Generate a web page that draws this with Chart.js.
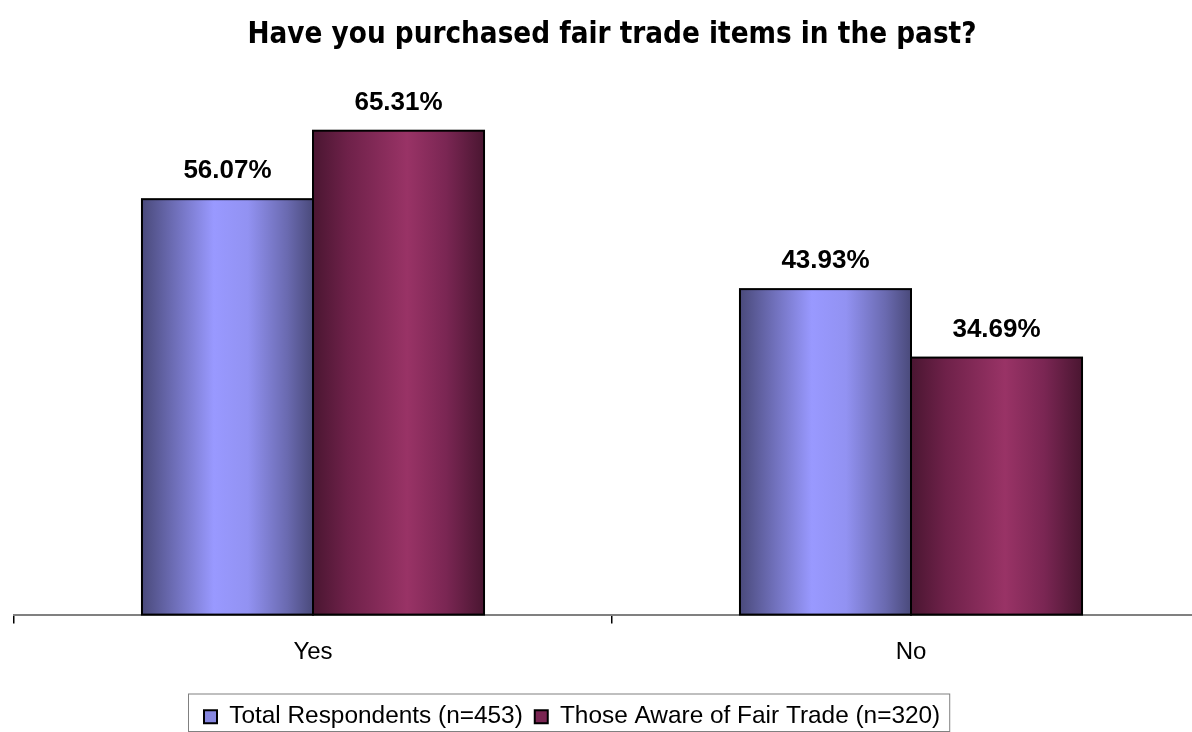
<!DOCTYPE html>
<html>
<head>
<meta charset="utf-8">
<title>Fair trade purchases</title>
<script src="https://cdn.jsdelivr.net/npm/chart.js@4/dist/chart.umd.min.js"></script>
<style>
  html, body { margin: 0; padding: 0; background: #fff; overflow: hidden; }
  #wrap { position: absolute; left: 0; top: 0; width: 1240px; height: 732px; }
</style>
</head>
<body>
<div id="wrap"><canvas id="chart"></canvas></div>
<script>
// Survey answers and the share of each group
const categories = ['Yes', 'No'];
const seriesNames = ['Total Respondents (n=453)', 'Those Aware of Fair Trade (n=320)'];
const totalRespondents = [56.07, 43.93];
const awareOfFairTrade = [65.31, 34.69];
const chartTitle = 'Have you purchased fair trade items in the past?';

// Edge / centre colours of the cylinder-like bar shading
const shading = [
  { edge: '#4a4a7b', mid: '#8787e0', light: '#9999ff' },
  { edge: '#4a1631', mid: '#7a2552', light: '#993366' }
];

function barGradient(ctx, left, right, s, idx) {
  const g = ctx.createLinearGradient(left, 0, right, 0);
  if (idx === 0) {
    g.addColorStop(0, s.edge);
    g.addColorStop(0.18, '#6c6cb4');
    g.addColorStop(0.42, s.light);
    g.addColorStop(0.62, '#9292f2');
    g.addColorStop(0.85, '#6a6ab0');
    g.addColorStop(1, s.edge);
  } else {
    g.addColorStop(0, s.edge);
    g.addColorStop(0.2, '#6e2149');
    g.addColorStop(0.55, s.light);
    g.addColorStop(0.78, '#7a2653');
    g.addColorStop(1, s.edge);
  }
  return g;
}

// Paints shaded bars with outlines and value labels from the bar elements
const barPaint = {
  id: 'barPaint',
  afterDatasetsDraw(chart) {
    const ctx = chart.ctx;
    ctx.save();
    chart.data.datasets.forEach((ds, di) => {
      const meta = chart.getDatasetMeta(di);
      meta.data.forEach((bar, i) => {
        const p = bar.getProps(['x', 'y', 'base', 'width'], true);
        const left = p.x - p.width / 2;
        const right = p.x + p.width / 2;
        ctx.fillStyle = barGradient(ctx, left, right, shading[di], di);
        ctx.fillRect(left, p.y, p.width, p.base - p.y);
        ctx.strokeStyle = '#000';
        ctx.lineWidth = 2;
        ctx.strokeRect(left, p.y, p.width, p.base - p.y);
        ctx.fillStyle = '#000';
        ctx.font = 'bold 26px "Liberation Sans", Arial, sans-serif';
        ctx.textAlign = 'center';
        ctx.textBaseline = 'middle';
        ctx.fillText(ds.data[i].toFixed(2) + '%', p.x, p.y - 28);
      });
    });
    ctx.restore();
  }
};

// Places the legend row and draws its frame
const legendFrame = {
  id: 'legendFrame',
  afterLayout(chart) {
    const lg = chart.legend;
    if (!lg) return;
    const h = lg.height;
    lg.left = 192;
    lg.top = 692.5;
    lg.bottom = lg.top + h;
  },
  afterDraw(chart) {
    const lg = chart.legend;
    if (!lg) return;
    const ctx = chart.ctx;
    const pad = lg.options.labels.padding;
    const x0 = lg.left - 3.5;
    const x1 = lg.left + pad + lg.lineWidths[0] - 2.5;
    const y0 = lg.top + 1.5;
    const y1 = chart.height - 0.5;
    ctx.save();
    ctx.strokeStyle = '#808080';
    ctx.lineWidth = 1;
    ctx.strokeRect(x0, y0, x1 - x0, y1 - y0);
    ctx.restore();
  }
};

new Chart(document.getElementById('chart'), {
  type: 'bar',
  data: {
    labels: categories,
    datasets: [
      { label: seriesNames[0], data: totalRespondents, backgroundColor: 'rgba(0,0,0,0)', borderWidth: 0,
        categoryPercentage: 0.572, barPercentage: 1 },
      { label: seriesNames[1], data: awareOfFairTrade, backgroundColor: 'rgba(0,0,0,0)', borderWidth: 0,
        categoryPercentage: 0.572, barPercentage: 1 }
    ]
  },
  options: {
    responsive: true,
    maintainAspectRatio: false,
    animation: false,
    events: [],
    layout: { padding: { left: 14, right: 30, top: 0, bottom: 5.2 } },
    scales: {
      x: {
        offset: true,
        grid: { offset: true, drawOnChartArea: false, drawTicks: true, tickLength: 9, color: '#000', lineWidth: 1.5 },
        border: { display: true, color: '#808080', width: 2 },
        ticks: { color: '#000', padding: 14, font: { family: '"Liberation Sans", Arial, sans-serif', size: 24 } }
      },
      y: { display: false, min: 0, max: 70 }
    },
    plugins: {
      title: {
        display: true,
        text: chartTitle,
        color: '#000',
        font: { family: '"DejaVu Sans Condensed", "Liberation Sans Narrow", "DejaVu Sans", sans-serif', size: 29.3, weight: 'bold' },
        padding: { top: 18, bottom: 42.8 }
      },
      legend: {
        display: true,
        position: 'bottom',
        align: 'start',
        labels: {
          color: '#000',
          boxWidth: 13,
          boxHeight: 13,
          padding: 12,
          font: { family: '"Liberation Sans", Arial, sans-serif', size: 24.4 },
          generateLabels: (chart) => chart.data.datasets.map((ds, i) => ({
            text: ds.label,
            fillStyle: shading[i].mid,
            strokeStyle: '#000',
            lineWidth: 2,
            hidden: false,
            datasetIndex: i
          }))
        }
      },
      tooltip: { enabled: false }
    }
  },
  plugins: [barPaint, legendFrame]
});
</script>
</body>
</html>
